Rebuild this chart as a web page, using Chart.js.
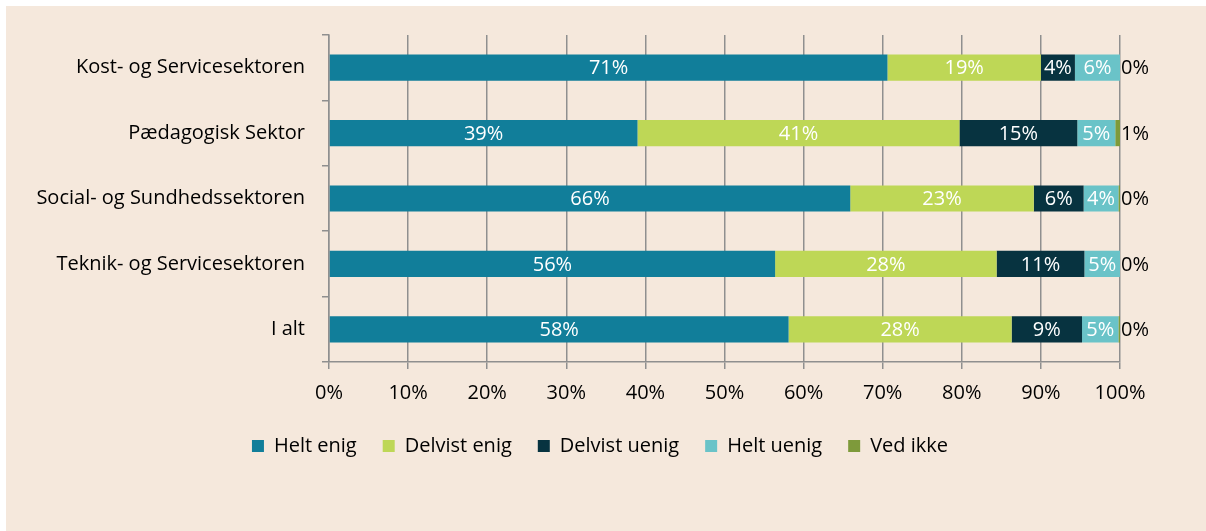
<!DOCTYPE html>
<html>
<head>
<meta charset="utf-8">
<script src="https://cdn.jsdelivr.net/npm/chart.js@4"></script>
<style>
  html, body { margin: 0; padding: 0; background: #ffffff; }
  #wrap { position: absolute; left: 6px; top: 6px; width: 1200px; height: 525px; background: #f5e8dc; }
</style>
</head>
<body>
<div id="wrap"><canvas id="chart_sektorer" width="1200" height="525"></canvas></div>
<script>
const kategorier = ['Kost- og Servicesektoren', 'Pædagogisk Sektor', 'Social- og Sundhedssektoren', 'Teknik- og Servicesektoren', 'I alt'];
const heltEnig = [70.6, 39.0, 65.9, 56.4, 58.1];
const delvistEnig = [19.4, 40.7, 23.2, 28.0, 28.2];
const delvistUenig = [4.3, 14.9, 6.3, 11.1, 8.9];
const heltUenig = [5.7, 4.8, 4.4, 4.5, 4.6];
const vedIkke = [0, 0.6, 0.2, 0, 0.2];
const xTicks = [0, 10, 20, 30, 40, 50, 60, 70, 80, 90, 100];

const fontFamily = "'Open Sans', sans-serif";

// labels inside the bars, "Ved ikke" label outside to the right
const barLabels = {
    id: 'barLabels',
    afterLayout(chart) {
        // legend is centred on the whole box, not only the plot part
        chart.legend.left = 0;
        chart.legend.right = chart.width - 12;
    },
    afterDatasetsDraw(chart) {
        const ctx = chart.ctx;
        ctx.save();
        ctx.font = '20px ' + fontFamily;
        ctx.textBaseline = 'middle';
        chart.data.datasets.forEach((ds, i) => {
            const meta = chart.getDatasetMeta(i);
            meta.data.forEach((bar, j) => {
                const txt = Math.round(ds.data[j]) + '%';
                if (i === 4) {
                    ctx.fillStyle = '#000000';
                    ctx.textAlign = 'left';
                    ctx.fillText(txt, bar.x + 1, bar.y + 1);
                } else {
                    ctx.fillStyle = '#ffffff';
                    ctx.textAlign = 'center';
                    ctx.fillText(txt, (bar.x + bar.base) / 2, bar.y + 1);
                }
            });
        });
        ctx.restore();
    }
};

const ctxSektorer = document.getElementById('chart_sektorer');
const sektorChart = new Chart(ctxSektorer, {
    type: 'bar',
    data: {
        labels: kategorier,
        datasets: [{
            label: 'Helt enig',
            data: heltEnig,
            backgroundColor: '#117e9a'
        },{
            label: 'Delvist enig',
            data: delvistEnig,
            backgroundColor: '#bed756'
        },{
            label: 'Delvist uenig',
            data: delvistUenig,
            backgroundColor: '#073340'
        },{
            label: 'Helt uenig',
            data: heltUenig,
            backgroundColor: '#6ac3c8'
        },{
            label: 'Ved ikke',
            data: vedIkke,
            backgroundColor: '#7e9a3b'
        }]
    },
    options: {
        indexAxis: 'y',
        responsive: false,
        animation: false,
        events: [],
        datasets: {
            bar: { categoryPercentage: 1, barPercentage: 0.4, borderWidth: 0 }
        },
        layout: { padding: { left: 0, right: 86, top: 29, bottom: 65 } },
        scales: {
            x: {
                stacked: true,
                min: 0,
                max: 100,
                afterBuildTicks: (scale) => { scale.ticks = xTicks.map(v => ({ value: v })); },
                afterFit: (scale) => { scale.height = 48; },
                grid: { color: '#8f8f8f', lineWidth: 1.5, tickLength: 7, drawTicks: true },
                border: { color: '#8f8f8f', width: 1.5 },
                ticks: {
                    padding: 12,
                    color: '#000000',
                    font: { family: fontFamily, size: 20 },
                    callback: (v) => v + '%'
                }
            },
            y: {
                stacked: true,
                afterFit: (scale) => { scale.width = 323; },
                grid: { offset: true, drawOnChartArea: false, color: '#8f8f8f', lineWidth: 1.5, tickLength: 7 },
                border: { color: '#8f8f8f', width: 1.5 },
                ticks: {
                    padding: 17,
                    color: '#000000',
                    font: { family: fontFamily, size: 20 }
                }
            }
        },
        plugins: {
            tooltip: { enabled: false },
            legend: {
                position: 'bottom',
                labels: {
                    boxWidth: 12,
                    boxHeight: 12,
                    padding: 26,
                    color: '#000000',
                    font: { family: fontFamily, size: 20 }
                }
            }
        }
    },
    plugins: [barLabels]
});
</script>
</body>
</html>
